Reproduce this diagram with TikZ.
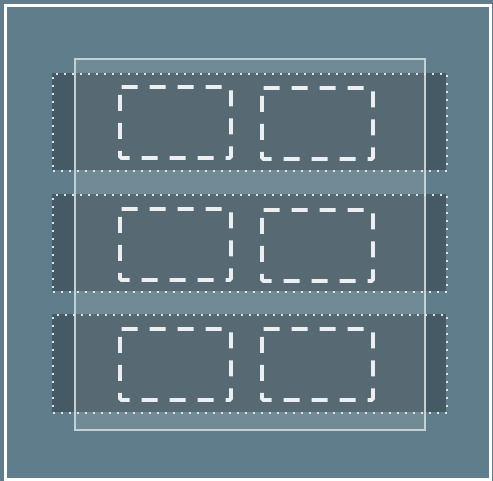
\documentclass[tikz,border=0pt]{standalone}
\begin{document}
\begin{tikzpicture}[x=1pt,y=-1pt,
  bgcol/.style={fill=bgc},
  rowband/.style={fill=rowc},
  rowdots/.style={draw=dotc,line width=1.8pt,dash pattern=on 1.8pt off 6.2pt},
  panel/.style={fill=white,fill opacity=0.1,draw=panelc,line width=2pt,draw opacity=1},
  slot/.style={draw=slotc,line width=3.8pt,dash pattern=on 16pt off 12pt,rounded corners=1.5pt},
  frame/.style={draw=white,line width=3.2pt}]
\definecolor{bgc}{HTML}{607D8B}
\definecolor{rowc}{HTML}{455A64}
\definecolor{dotc}{HTML}{DDE3E6}
\definecolor{panelc}{HTML}{C5D0D5}
\definecolor{slotc}{HTML}{ECEFF1}
\useasboundingbox (0,0) rectangle (493,481);
\fill[bgcol] (0,0) rectangle (493,481);
\draw[frame] (5.5,5.5) rectangle (490.5,480);
% row bands
\foreach \n/\t/\b in {r1/73/170,r2/194/291,r3/314/412}{
  \path[rowband] (52,\t) rectangle (446,\b);
}
% panel
\node[panel,minimum width=350pt,minimum height=371pt,inner sep=0pt,anchor=north west] (panel) at (74,58) {};
% row dotted borders
\foreach \n/\t/\b in {r1/73/170,r2/194/291,r3/314/412}{
  \node[rowdots,minimum width=394pt,minimum height={(\b-\t)*1pt},inner sep=0pt,anchor=north west] (\n) at (52,\t) {};
}
% dashed slots
\foreach \n/\x/\y in {s11/120/87,s12/262/88,s21/120/209,s22/262/210,s31/120/329,s32/262/329}{
  \draw[slot] (\x,\y) -- (\x+111,\y) -- (\x+111,\y+71) -- (\x,\y+71) -- cycle;
  \coordinate (\n) at (\x+55,\y+35);
}
\end{tikzpicture}
\end{document}
